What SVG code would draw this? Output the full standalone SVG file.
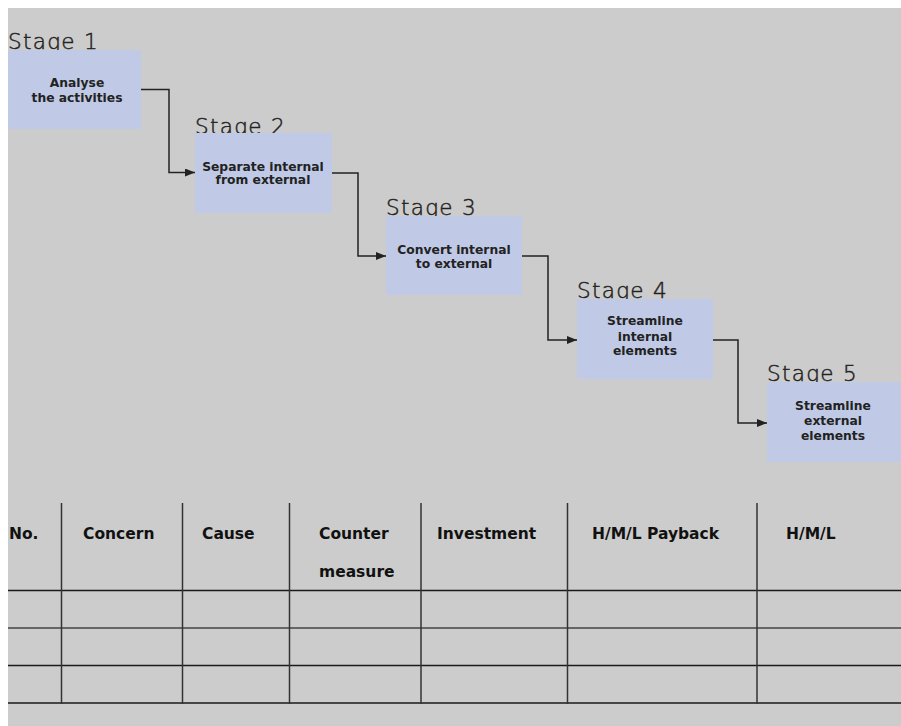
<svg xmlns="http://www.w3.org/2000/svg" width="901" height="726" viewBox="0 0 901 726">
<defs>
<marker id="arr" viewBox="0 0 10 8" refX="10" refY="4" markerWidth="10" markerHeight="8" markerUnits="userSpaceOnUse" orient="auto">
<path d="M0,0 L10,4 L0,8 Z" fill="#222"/>
</marker>
<style>
.box{fill:#c0cae6}
.stage{font-family:"DejaVu Sans","Liberation Sans",sans-serif;font-weight:200;font-size:21.5px;fill:#222;stroke:#222;stroke-width:0.45px;letter-spacing:1.3px}
.bt{font-family:"DejaVu Sans","Liberation Sans",sans-serif;font-weight:bold;font-size:12.3px;fill:#222;text-anchor:middle}
.conn{fill:none;stroke:#222;stroke-width:1.5}
.hd{font-family:"DejaVu Sans","Liberation Sans",sans-serif;font-weight:bold;font-size:15.5px;fill:#111}
.hl{stroke:#1a1a1a;stroke-width:1.5}
.vl{stroke:#333;stroke-width:1.5}
</style>
</defs>
<rect x="0" y="0" width="901" height="726" fill="#ffffff"/>
<rect x="8" y="8" width="893" height="718" fill="#cccccc"/>

<g id="stage1">
<text class="stage" x="8" y="49">Stage 1</text>
<rect class="box" x="8" y="50" width="133" height="79"/>
<text class="bt" x="77" y="87">Analyse</text>
<text class="bt" x="77" y="102">the activities</text>
</g>
<g id="stage2">
<text class="stage" x="195" y="134">Stage 2</text>
<rect class="box" x="195" y="133" width="137" height="80"/>
<text class="bt" x="263" y="171">Separate internal</text>
<text class="bt" x="263" y="184">from external</text>
</g>
<g id="stage3">
<text class="stage" x="386" y="215">Stage 3</text>
<rect class="box" x="386" y="216" width="136" height="79"/>
<text class="bt" x="454" y="254">Convert internal</text>
<text class="bt" x="454" y="268">to external</text>
</g>
<g id="stage4">
<text class="stage" x="577" y="298">Stage 4</text>
<rect class="box" x="577" y="299" width="136" height="80"/>
<text class="bt" x="645" y="325">Streamline</text>
<text class="bt" x="645" y="341">internal</text>
<text class="bt" x="645" y="355">elements</text>
</g>
<g id="stage5">
<text class="stage" x="767" y="381">Stage 5</text>
<rect class="box" x="767" y="382" width="134" height="80"/>
<text class="bt" x="833" y="410">Streamline</text>
<text class="bt" x="833" y="425">external</text>
<text class="bt" x="833" y="440">elements</text>
</g>

<g id="connectors">
<path class="conn" d="M141,89.5 H169 V172.5 H195" marker-end="url(#arr)"/>
<path class="conn" d="M332,173 H358 V256 H386" marker-end="url(#arr)"/>
<path class="conn" d="M522,256 H548 V340 H577" marker-end="url(#arr)"/>
<path class="conn" d="M713,340 H738 V423 H767" marker-end="url(#arr)"/>
</g>

<g id="table">
<line class="hl" x1="8" y1="590.5" x2="901" y2="590.5"/>
<line x1="8" y1="628" x2="901" y2="628" stroke="#666" stroke-width="2"/>
<line class="hl" x1="8" y1="665.5" x2="901" y2="665.5"/>
<line class="hl" x1="8" y1="703" x2="901" y2="703"/>
<line class="vl" x1="61.5" y1="503" x2="61.5" y2="704"/>
<line class="vl" x1="182.5" y1="503" x2="182.5" y2="704"/>
<line class="vl" x1="289.5" y1="503" x2="289.5" y2="704"/>
<line class="vl" x1="421" y1="503" x2="421" y2="704"/>
<line class="vl" x1="567.5" y1="503" x2="567.5" y2="704"/>
<line class="vl" x1="757" y1="503" x2="757" y2="704"/>
<text class="hd" x="9" y="539">No.</text>
<text class="hd" x="83" y="539">Concern</text>
<text class="hd" x="202" y="539">Cause</text>
<text class="hd" x="319" y="539">Counter</text>
<text class="hd" x="319" y="577">measure</text>
<text class="hd" x="437" y="539">Investment</text>
<text class="hd" x="592" y="539">H/M/L Payback</text>
<text class="hd" x="786" y="539">H/M/L</text>
</g>
</svg>
